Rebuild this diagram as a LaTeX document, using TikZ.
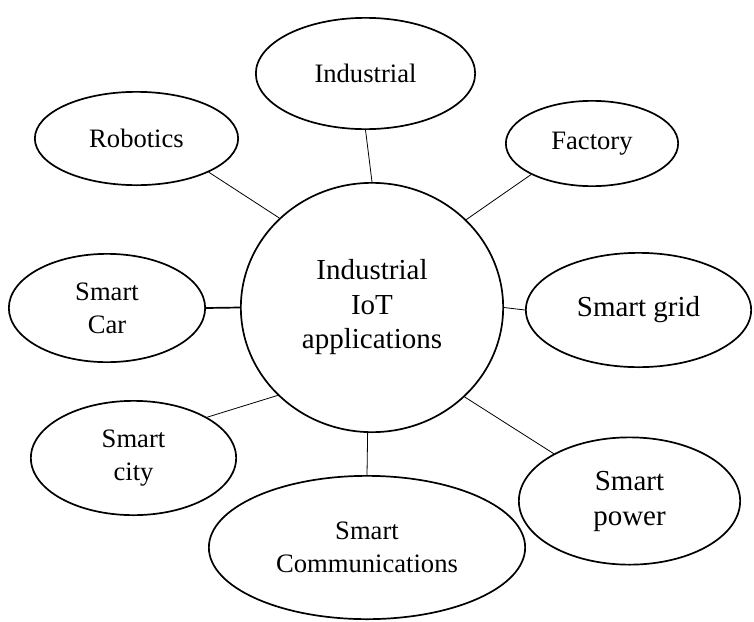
\documentclass[tikz,border=0pt]{standalone}
\usepackage{fontspec}
\setmainfont{Liberation Serif}
\usetikzlibrary{shapes.geometric}
\begin{document}
\begin{tikzpicture}[x=1pt,y=-1pt,
  bubble/.style={draw, ellipse, line width=1.7pt, inner sep=0pt, align=center,
    font=\fontsize{26.6}{33}\selectfont},
  bigtext/.style={font=\fontsize{29}{34.5}\selectfont},
  link/.style={line width=0.8pt},
  thicklink/.style={line width=1.7pt}]
\useasboundingbox (0,0) rectangle (754,621);
\node[bubble, bigtext, minimum width=262.3pt, minimum height=249.3pt] (hub) at (372,307.5) {Industrial\\IoT\\applications};
\node[bubble, minimum width=219.3pt, minimum height=111.3pt] (ind) at (365.5,73.5) {Industrial};
\node[bubble, minimum width=203.3pt, minimum height=93.3pt] (rob) at (136.5,138.5) {Robotics};
\node[bubble, minimum width=172.3pt, minimum height=85.3pt] (fac) at (592,143.5) {Factory};
\node[bubble, bigtext, minimum width=225.3pt, minimum height=114.3pt] (grid) at (638.5,310) {Smart grid};
\node[bubble, minimum width=196.3pt, minimum height=108.3pt] (car) at (107,308) {Smart\\Car};
\node[bubble, minimum width=205.3pt, minimum height=114.3pt] (city) at (133.5,458) {Smart\\city};
\node[bubble, minimum width=316.3pt, minimum height=143.3pt] (comm) at (367,547.5) {Smart\\Communications};
\node[bubble, font=\fontsize{29}{35}\selectfont, minimum width=221.3pt, minimum height=127.3pt] (pow) at (629.5,501) {Smart\\power};
\draw[link] (hub.90) -- (ind.270);
\draw[link] (hub.136.4) -- (rob.335.8);
\draw[link] (hub.43.6) -- (fac.207.7);
\draw[link] (hub.0) -- (grid.180);
\draw[thicklink] (hub.180) -- (car.0);
\draw[link] (hub.223.8) -- (city.29.9);
\draw[link] (hub.268) -- (comm.90);
\draw[link] (hub.316.5) -- (pow.148);
\end{tikzpicture}
\end{document}
